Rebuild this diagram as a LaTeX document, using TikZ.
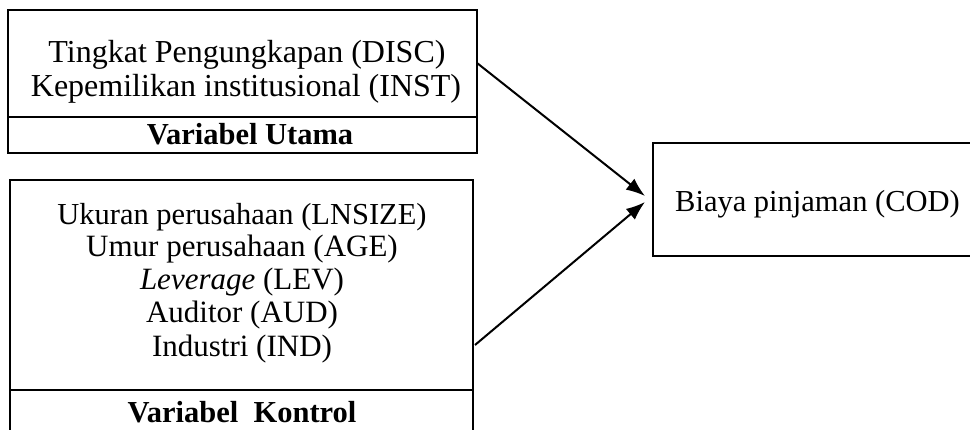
\documentclass[tikz,border=0pt]{standalone}
\usepackage{fontspec}
\setmainfont{Liberation Serif}
\usetikzlibrary{arrows.meta}
\begin{document}
\begin{tikzpicture}[x=1pt,y=-1pt,
  box/.style={draw, line width=1.8pt, inner sep=0pt, outer sep=0pt, anchor=north west},
  divider/.style={line width=1.8pt},
  txt/.style={anchor=base, font=\fontsize{31}{33}\selectfont, inner sep=0pt},
  bigtxt/.style={txt, font=\fontsize{32}{33}\selectfont},
  hdr/.style={anchor=base, font=\fontsize{30.5}{33}\selectfont\bfseries, inner sep=0pt},
  link/.style={line width=2pt, -{Latex[length=19pt,width=14pt]}}]
\useasboundingbox (0,0) rectangle (970,430);
\clip (0,0) rectangle (970,430);
\fill[white] (0,0) rectangle (970,430);

% main variables box
\node[box, minimum width=469pt, minimum height=143pt] (main) at (8,10) {};
\draw[divider] (8,117) -- (477,117);
\node[bigtxt] (disc) at (247,63) {Tingkat Pengungkapan (DISC)};
\node[bigtxt] (inst) at (246,97) {Kepemilikan institusional (INST)};
\node[hdr] (utama) at (250,145) {Variabel Utama};

% control variables box
\node[box, minimum width=463pt, minimum height=270pt] (ctrl) at (10,180) {};
\draw[divider] (10,390) -- (473,390);
\node[txt, font=\fontsize{30.5}{33}\selectfont] (size) at (242,225) {Ukuran perusahaan (LNSIZE)};
\node[txt] (age) at (242,257) {Umur perusahaan (AGE)};
\node[txt] (lev) at (242,290) {\textit{Leverage} (LEV)};
\node[txt] (aud) at (242,323) {Auditor (AUD)};
\node[txt] (ind) at (242,357) {Industri (IND)};
\node[hdr] (kontrol) at (242,423) {Variabel\ \ Kontrol};

% dependent variable box
\node[box, minimum width=340pt, minimum height=113pt] (cod) at (653,143) {};
\node[txt, anchor=base west, font=\fontsize{30.5}{33}\selectfont] (codtxt) at (675,212) {Biaya pinjaman (COD)};

% connectors
\coordinate (s1) at (477,63);
\coordinate (s2) at (475,345);
\coordinate (e1) at (645,196);
\coordinate (e2) at (645,202);
\draw[link] (s1) -- (e1);
\draw[link] (s2) -- (e2);
\end{tikzpicture}
\end{document}
